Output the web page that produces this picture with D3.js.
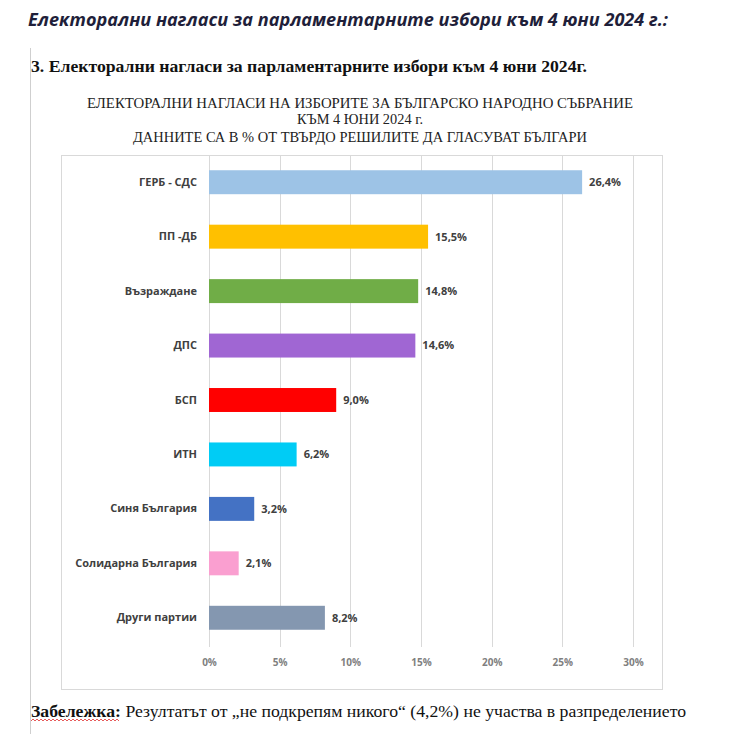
<!DOCTYPE html>
<html>
<head>
<meta charset="utf-8">
<script src="https://cdn.jsdelivr.net/npm/d3@7"></script>
<style>
  body { margin: 0; background: #fff; }
  svg { display: block; }
</style>
</head>
<body>
<svg id="chart" width="744" height="734"></svg>
<script>
(function() {
    // data
    var parties = ["ГЕРБ - СДС", "ПП -ДБ", "Възраждане", "ДПС", "БСП", "ИТН",
                   "Синя България", "Солидарна България", "Други партии"];
    var shares = [26.4, 15.5, 14.8, 14.6, 9.0, 6.2, 3.2, 2.1, 8.2];
    var colors = ["#9dc3e6", "#ffc000", "#70ad47", "#a066d3", "#ff0000",
                  "#00ccf5", "#4472c4", "#fa9fd0", "#8497b0"];
    var ticks = [0, 5, 10, 15, 20, 25, 30];
    var titleLines = ["ЕЛЕКТОРАЛНИ НАГЛАСИ НА ИЗБОРИТЕ ЗА БЪЛГАРСКО НАРОДНО СЪБРАНИЕ",
                      "КЪМ 4 ЮНИ 2024 г.",
                      "ДАННИТЕ СА В % ОТ ТВЪРДО РЕШИЛИТЕ ДА ГЛАСУВАТ БЪЛГАРИ"];

    var data = parties.map(function(p, i) {
        return {name: p, value: shares[i], color: colors[i]};
    });

    var svg = d3.select("#chart");
    var fmt = function(v) { return d3.format(".1f")(v).replace(".", ",") + "%"; };

    // page furniture
    svg.append("text")
        .attr("x", 28).attr("y", 26)
        .attr("font-family", "Open Sans")
        .attr("font-weight", 700).attr("font-style", "italic")
        .attr("font-size", 17.5).attr("fill", "#1f1f3a")
        .attr("textLength", 640).attr("lengthAdjust", "spacingAndGlyphs")
        .text("Електорални нагласи за парламентарните избори към 4 юни 2024 г.:");

    svg.append("line")
        .attr("x1", 30.5).attr("x2", 30.5)
        .attr("y1", 48).attr("y2", 734)
        .attr("stroke", "#cfcfcf");

    svg.append("text")
        .attr("x", 31).attr("y", 72)
        .attr("font-family", "Liberation Serif")
        .attr("font-weight", 700).attr("font-size", 17)
        .attr("textLength", 556).attr("lengthAdjust", "spacingAndGlyphs")
        .attr("fill", "#111")
        .text("3. Електорални нагласи за парламентарните избори към 4 юни 2024г.");

    // chart titles
    var titleY = [108, 124, 142];
    svg.selectAll("text.ctitle").data(titleLines).join("text")
        .attr("class", "ctitle")
        .attr("x", 360).attr("y", function(d, i) { return titleY[i]; })
        .attr("text-anchor", "middle")
        .attr("font-family", "Liberation Serif")
        .attr("font-size", 14).attr("fill", "#222")
        .attr("textLength", function(d, i) { return [546, 126, 454][i]; })
        .attr("lengthAdjust", "spacingAndGlyphs")
        .text(function(d) { return d; });

    // chart frame
    svg.append("rect")
        .attr("x", 61.5).attr("y", 155.5)
        .attr("width", 601).attr("height", 534)
        .attr("fill", "none").attr("stroke", "#d9d9d9");

    var x = d3.scaleLinear().domain([0, 30]).range([209, 633]);
    var y = d3.scaleBand().domain(parties).range([155, 645]).paddingInner(0.56).paddingOuter(0.28);

    // gridlines
    svg.append("g").selectAll("line").data(ticks).join("line")
        .attr("x1", function(d) { return Math.round(x(d)) + 0.5; })
        .attr("x2", function(d) { return Math.round(x(d)) + 0.5; })
        .attr("y1", 156).attr("y2", 647)
        .attr("stroke", "#d9d9d9");

    // x axis labels
    var xAxis = d3.axisBottom(x).tickValues(ticks)
        .tickFormat(function(d) { return d + "%"; })
        .tickSize(0).tickPadding(0);
    var gx = svg.append("g")
        .attr("transform", "translate(0,659)")
        .call(xAxis);
    gx.select(".domain").remove();
    gx.selectAll("text")
        .attr("font-family", "Open Sans").attr("font-weight", 700)
        .attr("font-size", 10).attr("fill", "#7f7f7f");

    // y axis labels
    var yAxis = d3.axisLeft(y).tickSize(0).tickPadding(12);
    var gy = svg.append("g")
        .attr("transform", "translate(209,0)")
        .call(yAxis);
    gy.select(".domain").remove();
    gy.selectAll("text")
        .attr("font-family", "Open Sans").attr("font-weight", 700)
        .attr("font-size", 11).attr("fill", "#404040");

    // bars
    svg.append("g").selectAll("rect").data(data).join("rect")
        .attr("x", x(0))
        .attr("y", function(d) { return y(d.name); })
        .attr("width", function(d) { return x(d.value) - x(0); })
        .attr("height", y.bandwidth())
        .attr("fill", function(d) { return d.color; });

    // value labels
    svg.append("g").selectAll("text").data(data).join("text")
        .attr("x", function(d) { return x(d.value) + 7; })
        .attr("y", function(d) { return y(d.name) + y.bandwidth() / 2; })
        .attr("dy", "0.35em")
        .attr("font-family", "Open Sans").attr("font-weight", 700)
        .attr("font-size", 11).attr("fill", "#404040")
        .text(function(d) { return fmt(d.value); });

    // note
    var note = svg.append("text")
        .attr("x", 31).attr("y", 717)
        .attr("font-family", "Liberation Serif")
        .attr("font-size", 16).attr("fill", "#111")
        .attr("textLength", 655).attr("lengthAdjust", "spacingAndGlyphs");
    note.append("tspan").attr("font-weight", 700).text("Забележка:");
    note.append("tspan").text(" Резултатът от „не подкрепям никого“ (4,2%) не участва в разпределението");

    // spell-check squiggle under the bold word
    var sq = d3.range(31, 121, 2).map(function(px, i) { return [px, i % 2 ? 719 : 721]; });
    svg.append("path")
        .attr("d", d3.line()(sq))
        .attr("fill", "none").attr("stroke", "#e03030").attr("stroke-width", 0.8);
})();
</script>
</body>
</html>
